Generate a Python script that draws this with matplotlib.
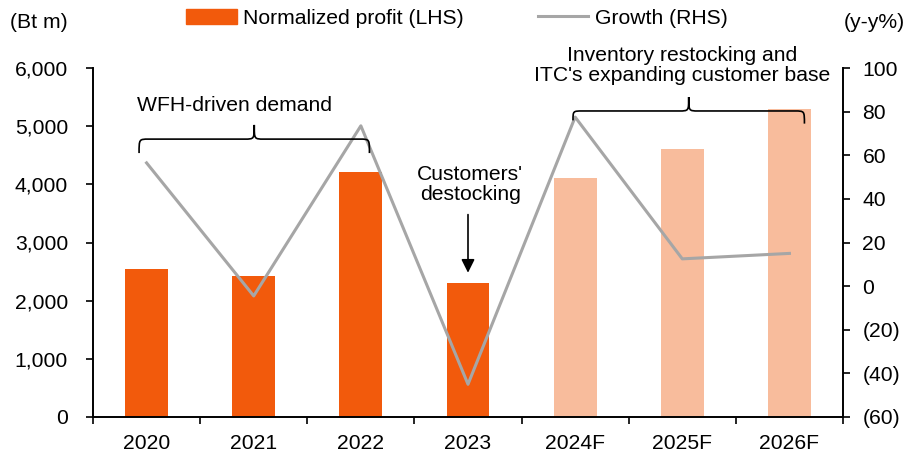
import matplotlib
matplotlib.use("Agg")
import matplotlib.pyplot as plt
from matplotlib.path import Path
from matplotlib.patches import PathPatch, Patch
from matplotlib.lines import Line2D
from matplotlib.ticker import FuncFormatter, FixedLocator
import numpy as np

plt.rcParams['font.family'] = ['Liberation Sans', 'DejaVu Sans']

categories = ["2020", "2021", "2022", "2023", "2024F", "2025F", "2026F"]
profit = [2540, 2430, 4220, 2300, 4110, 4600, 5290]
growth = [56.5, -4.5, 73.5, -45.0, 77.5, 12.5, 15.0]
is_forecast = [False, False, False, False, True, True, True]

C_ACT = "#F25A0C"
C_FC = "#F8BC9C"
C_LINE = "#A6A6A6"
FS = 15.2

fig = plt.figure(figsize=(9.12, 4.57), dpi=100)
ax = fig.add_axes([93/912, 40/457, 750/912, 349/457])
ax2 = ax.twinx()

x = np.arange(len(categories))
colors = [C_FC if f else C_ACT for f in is_forecast]
ax.bar(x, profit, width=0.4, color=colors, zorder=2)
ax2.plot(x, growth, color=C_LINE, lw=2.2, zorder=3)

ax.set_xlim(-0.5, len(categories) - 0.5)
ax.set_ylim(0, 6000)
ax2.set_ylim(-60, 100)
ax.set_yticks(np.arange(0, 6001, 1000))
ax2.set_yticks(np.arange(-60, 101, 20))
ax.yaxis.set_major_formatter(FuncFormatter(lambda v, p: f"{int(v):,}"))
ax2.yaxis.set_major_formatter(FuncFormatter(lambda v, p: f"({abs(int(v))})" if v < 0 else f"{int(v)}"))

ax.set_xticks(x)
ax.set_xticklabels(categories)
ax.xaxis.set_minor_locator(FixedLocator(np.arange(-0.5, len(categories), 1.0)))
ax.tick_params(axis='x', which='major', length=0, pad=12, labelsize=FS)
ax.tick_params(axis='x', which='minor', length=5, width=1.2, direction='out')
ax.tick_params(axis='y', length=5, width=1.2, direction='out', labelsize=FS, pad=13)
ax2.tick_params(axis='y', length=5, width=1.2, direction='out', labelsize=FS, pad=9)

for a in (ax, ax2):
    a.spines['top'].set_visible(False)
    for s in ('left', 'right', 'bottom'):
        a.spines[s].set_linewidth(1.4)
ax.spines['right'].set_visible(False)
ax2.spines['left'].set_visible(False)
ax2.spines['bottom'].set_visible(False)

ax.set_zorder(1)
ax2.set_zorder(2)
ax2.patch.set_visible(False)

def brace(axis, x0, x1, y_end0, y_end1, y_mid, y_tip, r=0.09):
    xm = (x0 + x1) / 2
    verts = [
        (x0, y_end0),
        (x0, y_mid), (x0, y_mid), (x0 + r, y_mid),
        (xm - r, y_mid),
        (xm, y_mid), (xm, y_mid), (xm, y_tip),
        (xm, y_mid), (xm, y_mid), (xm + r, y_mid),
        (x1 - r, y_mid),
        (x1, y_mid), (x1, y_mid), (x1, y_end1),
    ]
    codes = [Path.MOVETO,
             Path.CURVE4, Path.CURVE4, Path.CURVE4,
             Path.LINETO,
             Path.CURVE4, Path.CURVE4, Path.CURVE4,
             Path.CURVE4, Path.CURVE4, Path.CURVE4,
             Path.LINETO,
             Path.CURVE4, Path.CURVE4, Path.CURVE4]
    axis.add_patch(PathPatch(Path(verts, codes), fill=False, lw=1.2, color='black', zorder=5, clip_on=False))

brace(ax2, -0.07, 2.08, 61.0, 61.0, 67.4, 73.9)
brace(ax2, 3.98, 6.14, 76.0, 74.5, 80.3, 86.7)

ax.text(0.82, 5360, "WFH-driven demand", ha='center', va='center', fontsize=FS, zorder=6)
ax.text(5.0, 6040, "Inventory restocking and\nITC's expanding customer base", ha='center', va='center',
        fontsize=FS, linespacing=1.05, clip_on=False, zorder=6)
ax.text(3.02, 4000, "Customers'\ndestocking", ha='center', va='center', fontsize=FS, linespacing=1.05, zorder=6)
ax.annotate("", xy=(3.0, 2480), xytext=(3.0, 3480),
            arrowprops=dict(arrowstyle='-|>', color='black', lw=1.2, mutation_scale=20,
                            shrinkA=0, shrinkB=0), zorder=6)

handles = [Patch(color=C_ACT), Line2D([], [], color=C_LINE, lw=2.2)]
fig.legend(handles, ["Normalized profit (LHS)", "Growth (RHS)"], loc='center left',
           bbox_to_anchor=(186/912, 1 - 18/457), ncol=2, frameon=False, fontsize=FS,
           handlelength=2.4, handletextpad=0.3, columnspacing=3.5, borderaxespad=0, borderpad=0)

fig.text(10/912, 1 - 22/457, "(Bt m)", fontsize=FS, ha='left', va='center')
fig.text(905/912, 1 - 22/457, "(y-y%)", fontsize=FS, ha='right', va='center')

fig.savefig("out.png", dpi=100)
